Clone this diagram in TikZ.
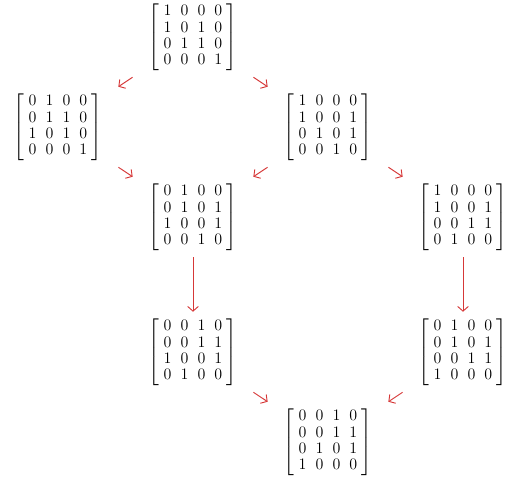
\documentclass[tikz,border=0pt]{standalone}
\usepackage{amsmath,amssymb}
\usetikzlibrary{arrows.meta}
\definecolor{arrowred}{RGB}{214,56,56}
\setlength{\arraycolsep}{3.4pt}
\newcommand{\binmat}[4]{\fontsize{12}{12.3}\selectfont$\left[\begin{array}{cccc}#1\\#2\\#3\\#4\end{array}\right]$}
\tikzset{
  perm/.style={inner sep=0pt,minimum width=100pt,minimum height=60pt},
  move/.style={->,color=arrowred,line width=0.7pt}
}

\begin{document}
\begin{tikzpicture}[x=101.25pt,y=67.5pt,>={Straight Barb[length=3.5pt,width=8pt]}]
\useasboundingbox (-0.4296,0.4111) rectangle (3.3111,-4.9111);
\node[perm] (top)    at (1,0)    {\binmat{1&0&0&0}{1&0&1&0}{0&1&1&0}{0&0&0&1}};
\node[perm] (west)   at (0,-1)   {\binmat{0&1&0&0}{0&1&1&0}{1&0&1&0}{0&0&0&1}};
\node[perm] (east)   at (2,-1)   {\binmat{1&0&0&0}{1&0&0&1}{0&1&0&1}{0&0&1&0}};
\node[perm] (mid)    at (1,-2)   {\binmat{0&1&0&0}{0&1&0&1}{1&0&0&1}{0&0&1&0}};
\node[perm] (far)    at (3,-2)   {\binmat{1&0&0&0}{1&0&0&1}{0&0&1&1}{0&1&0&0}};
\node[perm] (lowmid) at (1,-3.5) {\binmat{0&0&1&0}{0&0&1&1}{1&0&0&1}{0&1&0&0}};
\node[perm] (lowfar) at (3,-3.5) {\binmat{0&1&0&0}{0&1&0&1}{0&0&1&1}{1&0&0&0}};
\node[perm] (bottom) at (2,-4.5) {\binmat{0&0&1&0}{0&0&1&1}{0&1&0&1}{1&0&0&0}};
\draw[move] (top)--(west);
\draw[move] (top)--(east);
\draw[move] (west)--(mid);
\draw[move] (east)--(mid);
\draw[move] (east)--(far);
\draw[move] (mid)--(lowmid);
\draw[move] (far)--(lowfar);
\draw[move] (lowmid)--(bottom);
\draw[move] (lowfar)--(bottom);
\end{tikzpicture}
\end{document}
